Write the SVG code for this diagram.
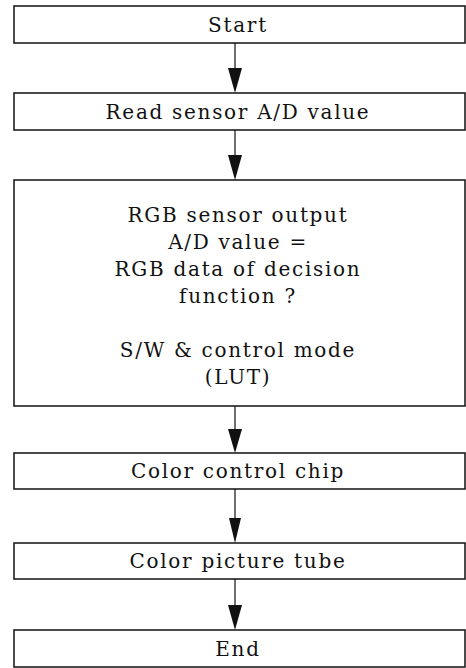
<svg xmlns="http://www.w3.org/2000/svg" width="466" height="668" viewBox="0 0 466 668">
<style>
.box{fill:#fff;stroke:#111;stroke-width:1.5}
.t{font-family:"DejaVu Serif","Liberation Serif",serif;font-size:20px;fill:#111;text-anchor:middle;letter-spacing:1.7px}
.c{stroke:#111;stroke-width:1.2;fill:none}
.h{fill:#111;stroke:none}
</style>
<rect width="466" height="668" fill="#fff"/>
<g id="connectors">
<line class="c" x1="235" y1="43" x2="235" y2="80"/><polygon class="h" points="228,68 242,68 235,93"/>
<line class="c" x1="235" y1="130" x2="235" y2="165"/><polygon class="h" points="228,155 242,155 235,180"/>
<line class="c" x1="235" y1="406" x2="235" y2="440"/><polygon class="h" points="228,429 242,429 235,453"/>
<line class="c" x1="235" y1="489" x2="235" y2="530"/><polygon class="h" points="229,518 241,518 235,543"/>
<line class="c" x1="235" y1="579" x2="235" y2="615"/><polygon class="h" points="228,605 242,605 235,630"/>
</g>
<g id="start"><rect class="box" x="14" y="6" width="451" height="37"/><text class="t" x="238" y="32">Start</text></g>
<g id="read"><rect class="box" x="14" y="93" width="451" height="37"/><text class="t" x="238" y="119">Read sensor A/D value</text></g>
<g id="decision"><rect class="box" x="14" y="180" width="451" height="226"/>
<text class="t" x="238" y="222">RGB sensor output</text>
<text class="t" x="238" y="249">A/D value =</text>
<text class="t" x="238" y="276">RGB data of decision</text>
<text class="t" x="238" y="303">function ?</text>
<text class="t" x="238" y="357">S/W &amp; control mode</text>
<text class="t" x="238" y="384">(LUT)</text>
</g>
<g id="chip"><rect class="box" x="14" y="453" width="451" height="36"/><text class="t" x="238" y="478">Color control chip</text></g>
<g id="tube"><rect class="box" x="14" y="543" width="451" height="36"/><text class="t" x="238" y="568">Color picture tube</text></g>
<g id="end"><rect class="box" x="14" y="630" width="451" height="37"/><text class="t" x="238" y="656">End</text></g>
</svg>
